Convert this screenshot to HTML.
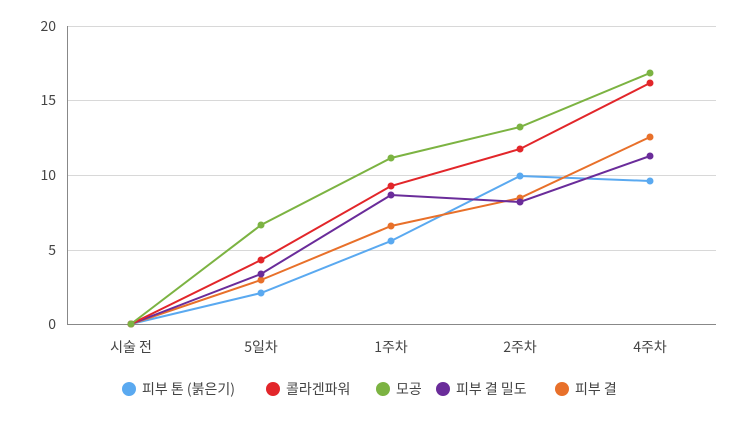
<!DOCTYPE html>
<html><head><meta charset="utf-8"><style>
body{margin:0;background:#fff;}
svg text{font-family:"Noto Sans CJK KR","Liberation Sans",sans-serif;fill:#444;}
</style></head><body>
<svg width="756" height="418" viewBox="0 0 756 418" xmlns="http://www.w3.org/2000/svg">
<g stroke="#d8d8d8" stroke-width="1">
<line x1="67" y1="26.5" x2="716" y2="26.5"/>
<line x1="67" y1="100.5" x2="716" y2="100.5"/>
<line x1="67" y1="175.5" x2="716" y2="175.5"/>
<line x1="67" y1="250.5" x2="716" y2="250.5"/>
</g>
<line x1="67" y1="324.5" x2="716" y2="324.5" stroke="#888"/>
<line x1="67.5" y1="26" x2="67.5" y2="324" stroke="#888"/>
<g font-size="14" text-anchor="end">
<text x="56" y="31">20</text><text x="56" y="105">15</text><text x="56" y="180">10</text><text x="56" y="255">5</text><text x="56" y="329">0</text>
</g>
<g font-size="14" text-anchor="middle">
<text x="131" y="352">시술 전</text><text x="261" y="352">5일차</text><text x="391" y="352">1주차</text><text x="520" y="352">2주차</text><text x="650" y="352">4주차</text>
</g>
<g fill="none" stroke-width="2">
<polyline stroke="#5aa9f0" points="131,324 261,293 391,241 520,176 650,181"/>
<polyline stroke="#e8702a" points="131,324 261,280 391,226 520,198 650,137"/>
<polyline stroke="#6a2c9a" points="131,324 261,274 391,195 520,202 650,156"/>
<polyline stroke="#e2262a" points="131,324 261,260 391,186 520,149 650,83"/>
<polyline stroke="#7cb342" points="131,324 261,225 391,158 520,127 650,73"/>
</g>
<g fill="#5aa9f0"><circle cx="131" cy="324" r="3.5"/><circle cx="261" cy="293" r="3.5"/><circle cx="391" cy="241" r="3.5"/><circle cx="520" cy="176" r="3.5"/><circle cx="650" cy="181" r="3.5"/></g>
<g fill="#e8702a"><circle cx="131" cy="324" r="3.5"/><circle cx="261" cy="280" r="3.5"/><circle cx="391" cy="226" r="3.5"/><circle cx="520" cy="198" r="3.5"/><circle cx="650" cy="137" r="3.5"/></g>
<g fill="#6a2c9a"><circle cx="131" cy="324" r="3.5"/><circle cx="261" cy="274" r="3.5"/><circle cx="391" cy="195" r="3.5"/><circle cx="520" cy="202" r="3.5"/><circle cx="650" cy="156" r="3.5"/></g>
<g fill="#e2262a"><circle cx="131" cy="324" r="3.5"/><circle cx="261" cy="260" r="3.5"/><circle cx="391" cy="186" r="3.5"/><circle cx="520" cy="149" r="3.5"/><circle cx="650" cy="83" r="3.5"/></g>
<g fill="#7cb342"><circle cx="131" cy="324" r="3.5"/><circle cx="261" cy="225" r="3.5"/><circle cx="391" cy="158" r="3.5"/><circle cx="520" cy="127" r="3.5"/><circle cx="650" cy="73" r="3.5"/></g>
<g font-size="14">
<circle cx="129" cy="389" r="7" fill="#5aa9f0"/><text x="142" y="394">피부 톤 (붉은기)</text>
<circle cx="273" cy="389" r="7" fill="#e2262a"/><text x="286" y="394">콜라겐파워</text>
<circle cx="383" cy="389" r="7" fill="#7cb342"/><text x="396" y="394">모공</text>
<circle cx="443" cy="389" r="7" fill="#6a2c9a"/><text x="456" y="394">피부 결 밀도</text>
<circle cx="562" cy="389" r="7" fill="#e8702a"/><text x="575" y="394">피부 결</text>
</g>
</svg>
</body></html>
